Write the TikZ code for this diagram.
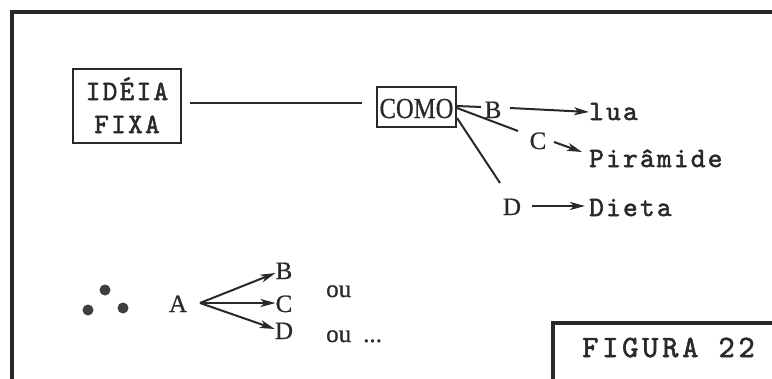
\documentclass[tikz,border=0pt]{standalone}
\usepackage{fontspec}
\usetikzlibrary{arrows.meta}
\newfontfamily\typew[Extension=.otf,FakeBold=1.8,LetterSpace=8]{lmmono10-regular}
\newfontfamily\typewide[Extension=.otf,FakeBold=1.8,LetterSpace=12]{lmmono10-regular}
\newfontfamily\romn[FakeStretch=0.85,FakeBold=0.6]{Liberation Serif}
\newfontfamily\romplain[FakeBold=0.6]{Liberation Serif}
\definecolor{ink}{gray}{0.16}
\tikzset{
  x=1pt, y=-1pt,
  every node/.style={text=ink},
  tw/.style={font=\typew\fontsize{28}{32}\selectfont, inner sep=0pt},
  rm/.style={font=\romplain\fontsize{25}{30}\selectfont, inner sep=0pt},
  box/.style={draw=ink, line width=2pt},
  wire/.style={draw=ink, line width=2pt},
  arr/.style={wire, -{Stealth[length=15pt,width=8pt,inset=4pt]}},
  frame/.style={draw=ink, line width=3.2pt},
  dot/.style={circle, fill=ink!90, minimum size=11pt, inner sep=0pt}
}
\begin{document}
\begin{tikzpicture}
\useasboundingbox (0,0) rectangle (772,378);
\clip (0,0) rectangle (772,378);
\fill[white] (0,0) rectangle (772,378);

% outer frame (top and left sides)
\draw[frame] (775,12) -- (12,12) -- (12,380);
% caption frame
\draw[frame] (553,380) -- (553,323) -- (775,323);
\node[anchor=base west, inner sep=0pt, font=\typewide\fontsize{31}{34}\selectfont] (fig) at (582,357) {FIGURA\hspace{20pt}22};

% main boxes
\node[box, minimum width=108pt, minimum height=74pt, inner sep=0pt] (idea) at (127,106) {};
\node[tw, anchor=base] (ideal1) at (127,100) {IDÉIA};
\node[tw, anchor=base] (ideal2) at (127,133) {FIXA};

\node[box, minimum width=79pt, minimum height=40pt, inner sep=0pt] (como) at (416.5,106.5) {};
\node[anchor=base, inner sep=0pt, font=\romn\fontsize{29}{30}\selectfont] (comot) at (416.5,118) {COMO};

\coordinate (ideaout) at (190,103);
\coordinate (comoin) at (362,103);
\draw[wire] (ideaout) -- (comoin);

% branches out of COMO
\node[rm, anchor=base] (b1) at (493,118) {B};
\node[rm, anchor=base] (c1) at (538,149) {C};
\node[rm, anchor=base] (d1) at (512,215) {D};
\node[tw, anchor=base west] (lua) at (589,120) {lua};
\node[tw, anchor=base west] (pir) at (589,167) {Pirâmide};
\node[tw, anchor=base west] (dieta) at (589,216) {Dieta};

\coordinate (cb) at (457,106);
\coordinate (cc) at (457,108);
\coordinate (cd) at (457,118);
\coordinate (bin) at (481,107);
\coordinate (cin) at (518,131);
\coordinate (din) at (500,183);
\draw[wire] (cb) -- (bin);
\draw[wire] (cc) -- (cin);
\draw[wire] (cd) -- (din);

\draw[arr] (510,108) -- (lua.west |- 0,112);
\draw[arr] (554,142) -- (582,152);
\draw[arr] (532,206) -- (585,206);

% three dots and the A fan
\node[dot] (p1) at (88,310) {};
\node[dot] (p2) at (105,290) {};
\node[dot] (p3) at (123,308) {};

\node[rm, anchor=base] (a) at (178,312) {A};
\node[rm, anchor=base] (b2) at (284,279) {B};
\node[rm, anchor=base] (c2) at (284,312) {C};
\node[rm, anchor=base] (d2) at (284,339) {D};
\node[rm, anchor=base west] (ou1) at (326,297) {ou};
\node[rm, anchor=base west] (ou2) at (326,342) {ou\hspace{12pt}...};

\coordinate (fan) at (200,303);
\draw[arr] (fan) -- (b2.west |- 0,273);
\draw[arr] (fan) -- (c2.west |- 0,303);
\draw[arr] (fan) -- (d2.west |- 0,329);
\end{tikzpicture}
\end{document}
